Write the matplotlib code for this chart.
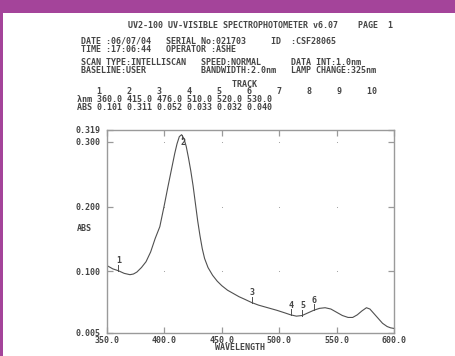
import matplotlib
matplotlib.use("Agg")
import matplotlib.pyplot as plt
from matplotlib.patches import Rectangle
import numpy as np

# ---- data ----
wavelength = [350, 352, 355, 360, 365, 370, 373, 376, 380, 384, 388, 392, 396,
              400, 403, 406, 409, 411, 413, 415, 417, 419, 421, 423, 425, 427,
              429, 431, 433, 435, 438, 442, 446, 450, 455, 460, 465, 470, 476,
              482, 490, 498, 505, 510, 515, 520, 525, 530, 535, 540, 545, 550,
              555, 560, 564, 568, 572, 576, 579, 582, 586, 590, 594, 597, 600]
absorbance = [0.109, 0.107, 0.104, 0.101, 0.097, 0.095, 0.096, 0.099, 0.106,
              0.115, 0.130, 0.151, 0.169, 0.203, 0.230, 0.256, 0.282, 0.297,
              0.308, 0.311, 0.305, 0.293, 0.275, 0.255, 0.232, 0.205, 0.178,
              0.155, 0.135, 0.120, 0.106, 0.094, 0.085, 0.078, 0.071, 0.066,
              0.061, 0.057, 0.052, 0.048, 0.044, 0.040, 0.036, 0.033, 0.031,
              0.032, 0.036, 0.040, 0.043, 0.044, 0.042, 0.037, 0.032, 0.029,
              0.029, 0.033, 0.039, 0.044, 0.042, 0.036, 0.028, 0.020, 0.015,
              0.013, 0.012]
track_nm = [360.0, 415.0, 476.0, 510.0, 520.0, 530.0]
track_abs = [0.101, 0.311, 0.052, 0.033, 0.032, 0.040]
track_numbers = [1, 2, 3, 4, 5, 6, 7, 8, 9, 10]
x_ticks = [350.0, 400.0, 450.0, 500.0, 550.0, 600.0]
y_ticks = [0.005, 0.100, 0.200, 0.300, 0.319]

title_line = "UV2-100 UV-VISIBLE SPECTROPHOTOMETER v6.07    PAGE  1"
info_block_1 = ["DATE :06/07/04   SERIAL No:021703     ID  :CSF28065",
                "TIME :17:06:44   OPERATOR :ASHE"]
info_block_2 = ["SCAN TYPE:INTELLISCAN   SPEED:NORMAL      DATA INT:1.0nm",
                "BASELINE:USER           BANDWIDTH:2.0nm   LAMP CHANGE:325nm"]

W, H = 456, 356
fig = plt.figure(figsize=(W / 100, H / 100), dpi=100)
fig.patch.set_facecolor("white")

purple = "#A4449A"
txt = "#454545"
mono = dict(family="DejaVu Sans Mono", fontweight="bold", color=txt, fontsize=6.0)

# frame decoration
fig.patches.append(Rectangle((0, 1 - 13 / H), 1, 13 / H, transform=fig.transFigure,
                             facecolor=purple, edgecolor="none", zorder=0))
fig.patches.append(Rectangle((0, 0), 3 / W, 1, transform=fig.transFigure,
                             facecolor=purple, edgecolor="none", zorder=0))


def ftext(x, y, s, ha="left", **kw):
    d = dict(mono)
    d.update(kw)
    fig.text(x / W, 1 - y / H, s, ha=ha, va="center", **d)


ftext(128, 25, title_line)
ftext(81, 45.25, "\n".join(info_block_1), linespacing=0.80)
ftext(81, 66.75, "\n".join(info_block_2), linespacing=0.80)

track_block = [
    " " * 31 + "TRACK",
    "    " + "".join(str(n).ljust(6) for n in track_numbers),
    "λnm " + " ".join(f"{v:.1f}" for v in track_nm),
    "ABS " + " ".join(f"{v:.3f}" for v in track_abs),
]
ftext(77, 95.75, "\n".join(track_block), linespacing=0.82)

# ---- axes ----
left, right, bottom, top = 107, 394, 333, 129.5
ax = fig.add_axes([left / W, 1 - bottom / H, (right - left) / W, (bottom - top) / H])
ax.set_xlim(350, 600)
ax.set_ylim(0.005, 0.319)
ax.plot(wavelength, absorbance, color="#505050", lw=0.8)

for s in ax.spines.values():
    s.set_color("#9a9a9a")
    s.set_linewidth(1.0)

ax.set_xticks(x_ticks)
ax.set_xticklabels([f"{v:.1f}" for v in x_ticks])
ax.set_yticks(y_ticks)
ax.set_yticklabels([f"{v:.3f}" for v in y_ticks])
ax.tick_params(direction="in", length=4, width=0.9, color="#9a9a9a",
               top=True, right=True, labelsize=6.0, labelcolor=txt)
ax.tick_params(axis="y", pad=5)
ax.tick_params(axis="x", pad=2.0)
for lab in ax.get_xticklabels() + ax.get_yticklabels():
    lab.set_family("DejaVu Sans Mono")
    lab.set_fontweight("bold")

# grid dots
gx, gy = np.meshgrid(x_ticks[1:-1], y_ticks[1:-1])
ax.scatter(gx.ravel(), gy.ravel(), s=0.6, color="#9a9a9a", lw=0)

# track markers
dy = 0.0092
for i, (nm, a) in enumerate(zip(track_nm, track_abs)):
    if i == 1:
        ax.plot([nm, nm], [a, a - dy * 0.7], color="#505050", lw=0.7)
        ax.text(nm + 1.5, a - 0.012, str(i + 1), ha="center", va="center", **mono)
    else:
        ax.plot([nm, nm], [a, a + dy], color="#505050", lw=0.7)
        ax.text(nm + 0.5, a + dy + 0.006, str(i + 1), ha="center", va="center", **mono)

ax.text(-0.105, 0.167, "ABS", transform=ax.get_yaxis_transform(), ha="left",
        va="center", **mono)
ftext(240, 348, "WAVELENGTH", ha="center")

fig.savefig("out.png", dpi=100, facecolor="white")
